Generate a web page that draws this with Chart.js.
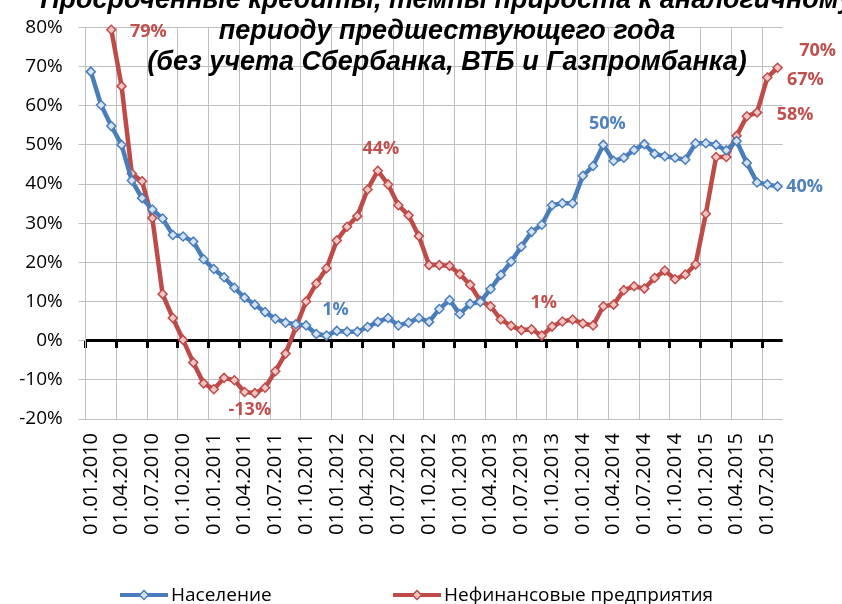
<!DOCTYPE html>
<html lang="ru">
<head>
<meta charset="utf-8">
<title>Просроченные кредиты</title>
<script src="https://cdn.jsdelivr.net/npm/chart.js@4.4.1/dist/chart.umd.min.js"></script>
<style>
  html, body { margin: 0; padding: 0; background: #fff; overflow: hidden; }
  .wrap { position: relative; width: 842px; height: 604px; overflow: hidden; }
  #credits { position: absolute; left: 0; top: 0; }
  .chart-title {
    position: absolute; left: -200px; width: 1294px; top: -16px;
    text-align: center; white-space: nowrap; color: #000;
    font: italic bold 27px/31px "Liberation Sans", Arial, sans-serif;
  }
  .legend-item {
    position: absolute; top: 584px; height: 20px; white-space: nowrap; color: #000;
    font: 19px/20px "Open Sans", sans-serif;
  }
  .legend-item svg { position: absolute; left: 0; top: 5px; }
  .legend-item span { position: absolute; left: 51px; top: 0; }
</style>
</head>
<body>
<div class="wrap">
  <canvas id="credits" width="842" height="604"></canvas>
  <div class="chart-title">
    Просроченные кредиты, темпы прироста к аналогичному<br>
    периоду предшествующего года<br>
    (без учета Сбербанка, ВТБ и Газпромбанка)
  </div>
  <div class="legend-item" style="left:120px">
    <svg width="48" height="12"><line x1="0" y1="6" x2="48" y2="6" stroke="#4A7EBB" stroke-width="4"/><path d="M24 1.5 L28.5 6 L24 10.5 L19.5 6 Z" fill="#D6E3F3" stroke="#4A7EBB" stroke-width="1.5"/></svg>
    <span>Население</span>
  </div>
  <div class="legend-item" style="left:393px">
    <svg width="48" height="12"><line x1="0" y1="6" x2="48" y2="6" stroke="#BE4B48" stroke-width="4"/><path d="M24 1.5 L28.5 6 L24 10.5 L19.5 6 Z" fill="#F0C6C5" stroke="#BE4B48" stroke-width="1.5"/></svg>
    <span>Нефинансовые предприятия</span>
  </div>
</div>
<script>
  /**
   * Data - monthly dates and year-on-year growth of overdue loans, %.
   */
  var months = [
    "01.01.2010", "01.02.2010", "01.03.2010", "01.04.2010", "01.05.2010", "01.06.2010",
    "01.07.2010", "01.08.2010", "01.09.2010", "01.10.2010", "01.11.2010", "01.12.2010",
    "01.01.2011", "01.02.2011", "01.03.2011", "01.04.2011", "01.05.2011", "01.06.2011",
    "01.07.2011", "01.08.2011", "01.09.2011", "01.10.2011", "01.11.2011", "01.12.2011",
    "01.01.2012", "01.02.2012", "01.03.2012", "01.04.2012", "01.05.2012", "01.06.2012",
    "01.07.2012", "01.08.2012", "01.09.2012", "01.10.2012", "01.11.2012", "01.12.2012",
    "01.01.2013", "01.02.2013", "01.03.2013", "01.04.2013", "01.05.2013", "01.06.2013",
    "01.07.2013", "01.08.2013", "01.09.2013", "01.10.2013", "01.11.2013", "01.12.2013",
    "01.01.2014", "01.02.2014", "01.03.2014", "01.04.2014", "01.05.2014", "01.06.2014",
    "01.07.2014", "01.08.2014", "01.09.2014", "01.10.2014", "01.11.2014", "01.12.2014",
    "01.01.2015", "01.02.2015", "01.03.2015", "01.04.2015", "01.05.2015", "01.06.2015",
    "01.07.2015", "01.08.2015"
  ];

  var households = [
    68.7, 60.2, 54.8, 50.0, 40.9, 36.4, 33.5, 31.2, 27.0, 26.6,
    25.3, 20.8, 18.3, 16.2, 13.5, 11.0, 9.2, 7.3, 5.6, 4.6,
    4.2, 3.9, 1.7, 1.3, 2.5, 2.3, 2.3, 3.5, 4.8, 5.8,
    3.9, 4.6, 5.8, 4.8, 8.1, 10.4, 6.8, 9.4, 9.9, 13.2,
    16.8, 20.2, 24.0, 27.8, 29.6, 34.6, 35.1, 35.1, 42.1, 44.6,
    50.0, 45.9, 46.7, 48.7, 50.2, 47.7, 47.1, 46.7, 46.2, 50.4,
    50.4, 50.0, 48.6, 51.0, 45.4, 40.4, 39.9, 39.4
  ];

  var companies = [
    null, null, 79.4, 65.0, 42.7, 40.7, 31.3, 11.9, 5.8, 0.2,
    -5.6, -10.9, -12.4, -9.5, -10.1, -13.1, -13.4, -12.0, -7.8, -3.3,
    3.4, 10.0, 14.6, 18.5, 25.6, 29.1, 31.8, 38.6, 43.4, 39.9,
    34.6, 32.0, 26.7, 19.3, 19.3, 19.1, 17.0, 14.3, 10.2, 8.8,
    5.4, 3.8, 2.7, 2.9, 1.3, 3.6, 4.9, 5.4, 4.4, 3.9,
    8.8, 9.2, 12.9, 13.9, 13.3, 16.0, 17.9, 15.7, 16.9, 19.5,
    32.4, 46.9, 46.9, 52.3, 57.3, 58.3, 67.2, 69.7
  ];

  var yTicks = { min: -20, max: 80, step: 10 };

  // value labels shown next to some points (dataset index, point index)
  var pointLabels = [
    { ds: 1, i: 2,  text: "79%",  dx: 37, dy: 2 },
    { ds: 1, i: 28, text: "44%",  dx: 3,  dy: -22 },
    { ds: 1, i: 16, text: "-13%", dx: -5, dy: 17 },
    { ds: 0, i: 23, text: "1%",   dx: 9,  dy: -26 },
    { ds: 1, i: 44, text: "1%",   dx: 2,  dy: -33 },
    { ds: 0, i: 50, text: "50%",  dx: 4,  dy: -21 },
    { ds: 0, i: 67, text: "40%",  dx: 27, dy: 0 },
    { ds: 1, i: 67, text: "70%",  dx: 40, dy: -17 },
    { ds: 1, i: 66, text: "67%",  dx: 38, dy: 2 },
    { ds: 1, i: 65, text: "58%",  dx: 38, dy: 2 }
  ];

  var BLUE = "#4A7EBB", RED = "#BE4B48";
  var BLUE_TEXT = "#4F81BD", RED_TEXT = "#C0504D";
  var GRID = "#BFBFBF";

  /**
   * Plugin - draws the value labels next to the points.
   */
  var pointLabelPlugin = {
    id: "pointLabels",
    afterDatasetsDraw: function (chart) {
      var ctx = chart.ctx;
      ctx.save();
      ctx.font = 'bold 18px "Open Sans", sans-serif';
      ctx.textAlign = "center";
      ctx.textBaseline = "middle";
      pointLabels.forEach(function (l) {
        var pt = chart.getDatasetMeta(l.ds).data[l.i];
        ctx.fillStyle = l.ds === 0 ? BLUE_TEXT : RED_TEXT;
        ctx.fillText(l.text, pt.x + l.dx, pt.y + l.dy);
      });
      ctx.restore();
    }
  };

  var everyThird = function (c) {
    return c.index % 3 === 0 ? GRID : "rgba(0,0,0,0)";
  };

  var ctx = document.getElementById("credits").getContext("2d");

  var chart = new Chart(ctx, {
    type: "line",
    data: {
      labels: months,
      datasets: [
        {
          label: "Население",
          data: households,
          xAxisID: "x",
          yAxisID: "y",
          borderColor: BLUE,
          borderWidth: 4.5,
          pointStyle: "rectRot",
          pointRadius: 4.5,
          pointBorderWidth: 1.5,
          pointBorderColor: BLUE,
          pointBackgroundColor: "#D6E3F3",
          tension: 0,
          clip: false
        },
        {
          label: "Нефинансовые предприятия",
          data: companies,
          xAxisID: "x",
          yAxisID: "y",
          borderColor: RED,
          borderWidth: 4.5,
          pointStyle: "rectRot",
          pointRadius: 4.5,
          pointBorderWidth: 1.5,
          pointBorderColor: RED,
          pointBackgroundColor: "#F0C6C5",
          tension: 0,
          clip: false
        }
      ]
    },
    options: {
      responsive: false,
      animation: false,
      devicePixelRatio: 1,
      layout: { padding: { left: 0, right: 59.3, top: 17.3, bottom: 0 } },
      plugins: {
        legend: { display: false },
        title: { display: false },
        tooltip: { enabled: false }
      },
      scales: {
        x: {
          type: "category",
          position: "bottom",
          offset: true,
          afterFit: function (s) { s.height = 185; },
          border: { display: false },
          grid: { offset: true, drawTicks: false, color: everyThird, lineWidth: 1 },
          ticks: {
            autoSkip: false,
            maxRotation: 90,
            minRotation: 90,
            padding: 14,
            color: "#000",
            font: { family: "Open Sans", size: 20 },
            callback: function (value, index) {
              return index % 3 === 0 ? this.getLabelForValue(value) : "";
            }
          }
        },
        // second category axis, only to draw the tick marks on the 0% line
        xZero: {
          type: "category",
          axis: "x",
          position: { y: 0 },
          offset: true,
          afterFit: function (s) { s.height = 0; },
          border: { display: false },
          grid: {
            offset: true,
            drawOnChartArea: false,
            drawTicks: true,
            tickLength: 7,
            tickWidth: 3,
            tickColor: function (c) { return c.index % 3 === 0 ? "#000" : "rgba(0,0,0,0)"; }
          },
          ticks: { display: false }
        },
        y: {
          min: yTicks.min,
          max: yTicks.max,
          afterFit: function (s) { s.width = 85.7; },
          border: { display: true, color: GRID, width: 1 },
          grid: {
            color: function (c) { return c.tick && c.tick.value === 0 ? "#000" : GRID; },
            lineWidth: function (c) { return c.tick && c.tick.value === 0 ? 3 : 1; },
            tickLength: 7,
            tickWidth: 1,
            tickColor: GRID
          },
          ticks: {
            stepSize: yTicks.step,
            padding: 16,
            color: "#000",
            font: { family: "Open Sans", size: 19 },
            callback: function (v) { return v + "%"; }
          }
        }
      }
    },
    plugins: [pointLabelPlugin]
  });
</script>
</body>
</html>
